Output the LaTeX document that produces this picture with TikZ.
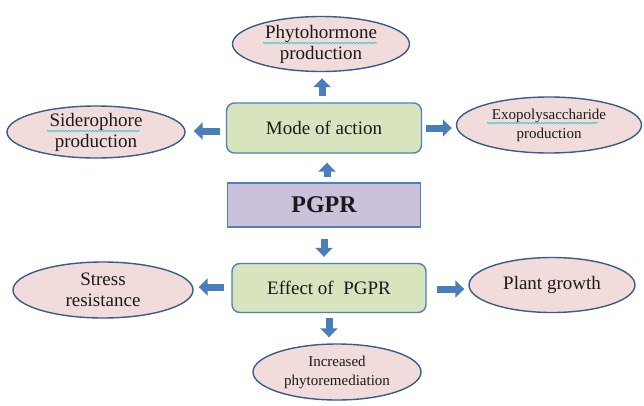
\documentclass[tikz,border=0pt]{standalone}
\usepackage{fontspec}
\setmainfont{Liberation Serif}
\usetikzlibrary{arrows.meta,shapes.geometric,calc,decorations.pathmorphing}
\definecolor{ellfill}{HTML}{F2DCDB}
\definecolor{elldraw}{HTML}{385D8A}
\definecolor{boxfill}{HTML}{D7E4BD}
\definecolor{boxdraw}{HTML}{4F81BD}
\definecolor{pgprfill}{HTML}{CCC1DA}
\definecolor{arrowc}{HTML}{4A7EBB}
\definecolor{squig}{HTML}{33CCCC}
\definecolor{txt}{HTML}{1A1A1A}
\tikzset{
  ell/.style={ellipse, draw=elldraw, fill=ellfill, line width=1.4pt, inner sep=0pt},
  lbl/.style={text=txt, align=center, font=\fontsize{19}{21}\selectfont},
  lblsmall/.style={text=txt, align=center, font=\fontsize{15}{19}\selectfont},
  greenbox/.style={rectangle, rounded corners=8pt, draw=boxdraw, fill=boxfill, line width=1.4pt, inner sep=0pt, text=txt, font=\fontsize{19}{21}\selectfont},
  pgprbox/.style={rectangle, draw=boxdraw, fill=pgprfill, line width=1.4pt, inner sep=0pt, text=txt, font=\fontsize{24}{26}\selectfont\bfseries},
  blk/.style={draw=arrowc, line width=7pt, -{Triangle[width=17pt,length=9pt]}},
  wavy/.style={draw=squig, line width=0.8pt, decorate, decoration={snake, amplitude=0.7pt, segment length=3pt}}
}
\begin{document}
\begin{tikzpicture}[x=1pt,y=-1pt]
\useasboundingbox[fill=white] (0,0) rectangle (644,405);
% boxes
\node[greenbox, minimum width=195pt, minimum height=50pt] (mode) at (324,128) {Mode of action};
\node[pgprbox, minimum width=193pt, minimum height=44pt] (pgpr) at (324,205) {PGPR};
\node[greenbox, minimum width=194pt, minimum height=49pt] (effect) at (329,288) {Effect of\ \ PGPR};
% ellipses
\node[ell, minimum width=177pt, minimum height=55pt, label={[lbl]center:Phytohormone\\production}] (phyto) at (321,44) {};
\node[ell, minimum width=178pt, minimum height=52pt, label={[lbl]center:Siderophore\\production}] (sidero) at (96,132) {};
\node[ell, minimum width=185pt, minimum height=56pt, label={[lblsmall]center:Exopolysaccharide\\production}] (exo) at (549,125) {};
\node[ell, minimum width=180pt, minimum height=56pt, label={[lbl]center:Stress\\resistance}] (stress) at (103,290) {};
\node[ell, minimum width=166pt, minimum height=55pt, label={[lbl]center:Plant growth}] (plant) at (552,285) {};
\node[ell, minimum width=168pt, minimum height=56pt, label={[lblsmall]center:Increased\\phytoremediation}] (incr) at (337,372) {};
% spell-check squiggles
\draw[wavy] ($(phyto)+(-58,-1)$) -- ($(phyto)+(56,-1)$);
\draw[wavy] ($(sidero)+(-49,-1)$) -- ($(sidero)+(44,-1)$);
\draw[wavy] ($(exo)+(-62,-2)$) -- ($(exo)+(49,-2)$);
% arrows
\draw[blk, shorten <=6pt, shorten >=6pt] ([xshift=-2pt]mode.north) -- ([xshift=-2pt]mode.north |- phyto.south);
\draw[blk, shorten <=6pt, shorten >=8pt] ([yshift=-3pt]mode.west) -- ([yshift=-3pt]mode.west -| sidero.east);
\draw[blk, shorten <=4pt, shorten >=4pt] (mode.east) -- (mode.east -| exo.west);
\draw[blk, shorten <=5pt, shorten >=9pt] ([xshift=3pt]pgpr.north) -- ([xshift=3pt]pgpr.north |- mode.south);
\draw[blk, shorten <=11pt, shorten >=6pt] (pgpr.south) -- (pgpr.south |- effect.north);
\draw[blk, shorten <=7pt, shorten >=5pt] ([yshift=1pt]effect.west) -- ([yshift=1pt]effect.west -| stress.east);
\draw[blk, shorten <=10pt, shorten >=4pt] ([yshift=-1pt]effect.east) -- ([yshift=-1pt]effect.east -| plant.west);
\draw[blk, shorten <=5pt, shorten >=6pt] (effect.south) -- (effect.south |- incr.north);
\end{tikzpicture}
\end{document}
